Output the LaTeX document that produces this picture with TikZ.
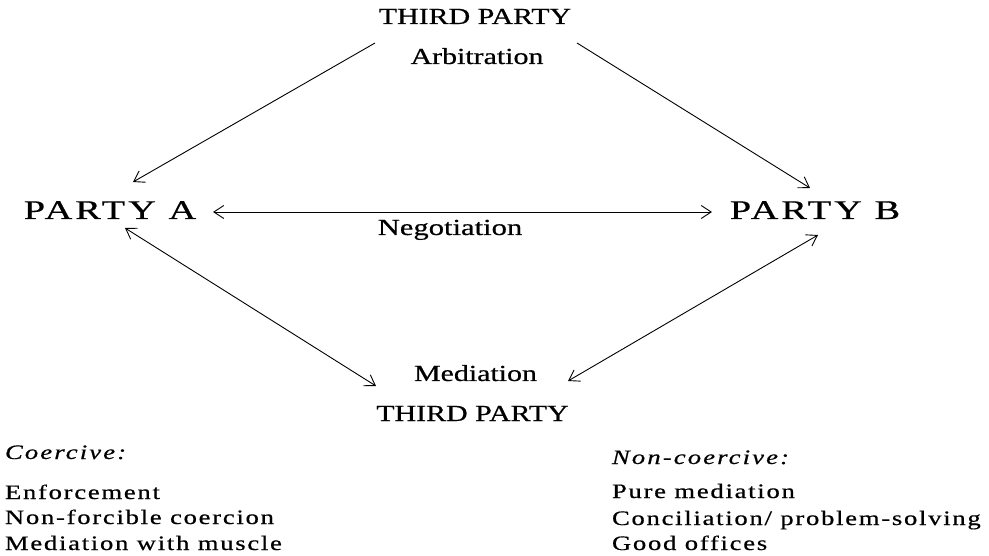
\documentclass[tikz,border=0pt]{standalone}
\usepackage{fontspec}
\setmainfont{Liberation Serif}
\newfontfamily\bigf[LetterSpace=8,FakeBold=0.5]{Liberation Serif}
\newfontfamily\midf[FakeBold=0.5]{Liberation Serif}
\newfontfamily\smf[LetterSpace=6.5,FakeBold=0.5]{Liberation Serif}
\newfontfamily\smif[LetterSpace=8,FakeBold=0.5]{Liberation Serif Italic}
\usetikzlibrary{arrows.meta}
\newcommand{\hstretch}[2]{\scalebox{#1}[1]{#2}}
\tikzset{
  lbl/.style={inner sep=0pt, outer sep=0pt},
  bigtxt/.style={lbl, font=\bigf\fontsize{27}{30}\selectfont},
  midtxt/.style={lbl, font=\midf\fontsize{23}{26}\selectfont},
  smtxt/.style={lbl, font=\smf\fontsize{20.5}{24}\selectfont},
  smitxt/.style={lbl, font=\smif\fontsize{20.5}{24}\selectfont},
  conn/.style={line width=0.9pt, {Straight Barb[length=10pt,width=13pt]}-{Straight Barb[length=10pt,width=13pt]}},
  oneway/.style={line width=0.9pt, -{Straight Barb[length=10pt,width=13pt]}}
}
\begin{document}
\begin{tikzpicture}[x=1pt,y=1pt]
\fill[white] (0,0) rectangle (989,-556);
\useasboundingbox (0,0) rectangle (989,-556);
% nodes
\node[midtxt, anchor=base] (tpT) at (475,-24) {\hstretch{1.3}{THIRD PARTY}};
\node[midtxt, anchor=base] (arb) at (477,-64) {\hstretch{1.3}{Arbitration}};
\node[bigtxt, anchor=base] (A) at (110,-219) {\hstretch{1.42}{PARTY A}};
\node[bigtxt, anchor=base] (B) at (815,-219) {\hstretch{1.42}{PARTY B}};
\node[midtxt, anchor=base] (neg) at (450,-235) {\hstretch{1.33}{Negotiation}};
\node[midtxt, anchor=base] (med) at (475.5,-381) {\hstretch{1.3}{Mediation}};
\node[midtxt, anchor=base] (tpB) at (472.5,-421) {\hstretch{1.3}{THIRD PARTY}};
\node[smitxt, anchor=base west] (coer) at (5,-459) {\hstretch{1.3}{Coercive:}};
\node[smtxt, anchor=base west] (c1) at (5,-499) {\hstretch{1.3}{Enforcement}};
\node[smtxt, anchor=base west] (c2) at (5,-524) {\hstretch{1.3}{Non-forcible coercion}};
\node[smtxt, anchor=base west] (c3) at (5,-550) {\hstretch{1.3}{Mediation with muscle}};
\node[smitxt, anchor=base west] (nc) at (612,-464) {\hstretch{1.3}{Non-coercive:}};
\node[smtxt, anchor=base west] (n1) at (612,-498) {\hstretch{1.3}{Pure mediation}};
\node[smtxt, anchor=base west] (n2) at (612,-525) {\hstretch{1.3}{Conciliation/ problem-solving}};
\node[smtxt, anchor=base west] (n3) at (612,-550) {\hstretch{1.3}{Good offices}};
% connector ends
\coordinate (tlS) at (375,-43);
\coordinate (tlE) at (133,-182);
\coordinate (trS) at (577,-43);
\coordinate (trE) at (810,-188);
\coordinate (ngL) at (213,-212);
\coordinate (ngR) at (712,-212);
\coordinate (llA) at (125,-228);
\coordinate (llM) at (376,-386);
\coordinate (lrB) at (818,-235);
\coordinate (lrM) at (568,-381);
% connectors
\draw[oneway] (tlS) -- (tlE);
\draw[oneway] (trS) -- (trE);
\draw[conn] (ngL) -- (ngR);
\draw[conn] (llA) -- (llM);
\draw[conn] (lrB) -- (lrM);
\end{tikzpicture}
\end{document}
